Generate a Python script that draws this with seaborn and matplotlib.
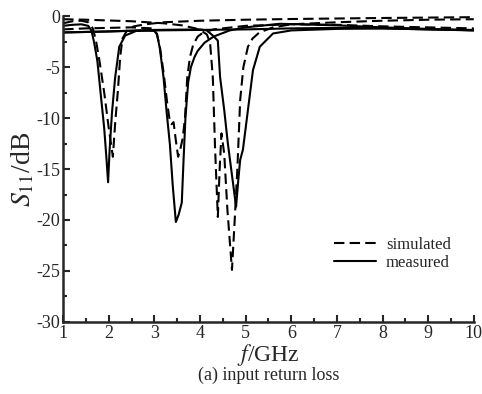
import matplotlib
matplotlib.use('Agg')
import matplotlib.pyplot as plt
import seaborn as sns
from matplotlib.ticker import MultipleLocator
from matplotlib.lines import Line2D

# simulated curves (dashed)
sim_a_f = [1.0, 1.2, 1.4, 1.55, 1.65, 1.72, 1.8, 1.9, 2.0, 2.09, 2.14, 2.2, 2.25, 2.3, 2.4, 2.55, 2.8, 3.2, 4.0, 5.0, 6.0, 8.0, 10.0]
sim_a_db = [-0.7, -0.5, -0.45, -0.6, -1.2, -2.4, -4.5, -7.5, -11.0, -13.8, -10.5, -7.3, -4.0, -2.2, -1.4, -1.0, -0.8, -0.6, -0.45, -0.35, -0.28, -0.18, -0.1]

sim_b_f = [1.0, 1.5, 2.5, 2.95, 3.05, 3.12, 3.2, 3.28, 3.34, 3.38, 3.42, 3.47, 3.52, 3.57, 3.62, 3.67, 3.72, 3.78, 3.85, 3.95, 4.07, 4.3, 5.0, 6.0, 7.0, 8.0, 9.0, 10.0]
sim_b_db = [-1.3, -1.2, -1.1, -1.2, -1.7, -3.0, -5.5, -8.5, -10.4, -10.6, -10.4, -12.2, -13.8, -13.0, -12.0, -10.0, -6.0, -4.0, -2.8, -2.0, -1.6, -1.3, -0.95, -0.8, -0.85, -1.0, -1.1, -1.2]

sim_c_f = [1.0, 1.5, 2.5, 3.2, 3.6, 3.9, 4.05, 4.15, 4.22, 4.28, 4.33, 4.39, 4.43, 4.47, 4.53, 4.6, 4.7, 4.76, 4.82, 4.88, 4.95, 5.05, 5.15, 5.3, 5.6, 6.0, 7.0, 8.0, 9.0, 10.0]
sim_c_db = [-0.3, -0.35, -0.5, -0.7, -0.9, -1.2, -1.5, -1.8, -2.6, -6.0, -13.0, -19.7, -15.0, -11.5, -13.5, -19.0, -24.9, -20.0, -14.8, -8.2, -5.0, -3.0, -2.2, -1.6, -1.1, -0.8, -0.6, -0.45, -0.35, -0.3]

# measured curves (solid)
mea_a_f = [1.0, 1.2, 1.4, 1.55, 1.62, 1.68, 1.75, 1.82, 1.9, 1.95, 1.985, 2.02, 2.07, 2.14, 2.23, 2.36, 2.6, 3.0, 4.0, 5.0, 6.0, 7.0, 8.0, 9.0, 10.0]
mea_a_db = [-0.95, -0.85, -0.8, -0.95, -1.4, -2.6, -4.4, -7.5, -11.0, -14.0, -16.3, -13.0, -9.5, -6.0, -3.0, -1.9, -1.45, -1.4, -1.35, -1.3, -1.2, -1.15, -1.2, -1.3, -1.4]

mea_b_f = [1.0, 2.0, 2.8, 3.0, 3.06, 3.12, 3.2, 3.27, 3.34, 3.4, 3.47, 3.53, 3.6, 3.64, 3.68, 3.74, 3.8, 3.88, 3.95, 4.1, 4.3, 4.65, 5.0, 5.75, 7.0, 8.0, 9.0, 10.0]
mea_b_db = [-1.6, -1.5, -1.4, -1.45, -1.8, -3.2, -6.0, -9.5, -12.6, -16.5, -20.2, -19.5, -18.3, -14.0, -10.0, -6.5, -5.0, -4.0, -3.4, -2.6, -2.0, -1.4, -1.1, -0.75, -0.9, -1.1, -1.25, -1.4]

mea_c_f = [1.0, 2.0, 3.0, 4.0, 4.15, 4.28, 4.39, 4.44, 4.53, 4.61, 4.7, 4.79, 4.84, 4.88, 4.94, 5.05, 5.16, 5.31, 5.6, 6.0, 7.0, 8.0, 9.0, 10.0]
mea_c_db = [-1.6, -1.5, -1.35, -1.3, -1.4, -1.9, -2.4, -6.0, -9.2, -12.5, -15.6, -18.7, -16.0, -14.1, -13.1, -9.2, -5.3, -3.0, -1.7, -1.4, -1.25, -1.2, -1.3, -1.35]

x_ticks = [1, 2, 3, 4, 5, 6, 7, 8, 9, 10]
y_ticks = [0, -5, -10, -15, -20, -25, -30]

sns.set_style('ticks')
plt.rcParams['font.family'] = ['Liberation Serif', 'DejaVu Serif']
plt.rcParams['mathtext.fontset'] = 'stix'
plt.rcParams['axes.unicode_minus'] = False

fig = plt.figure(figsize=(4.82, 3.94), dpi=100)
ax = fig.add_axes([0.131, 0.183, 0.852, 0.776])

dash = (5, 2.5)
lw = 1.5
for f, db in [(sim_a_f, sim_a_db), (sim_b_f, sim_b_db), (sim_c_f, sim_c_db)]:
    sns.lineplot(x=f, y=db, ax=ax, color='black', lw=lw, sort=False)
    ax.lines[-1].set_dashes(dash)
for f, db in [(mea_a_f, mea_a_db), (mea_b_f, mea_b_db), (mea_c_f, mea_c_db)]:
    sns.lineplot(x=f, y=db, ax=ax, color='black', lw=lw, sort=False)

ax.set_xlim(1, 10)
ax.set_ylim(-30, 0)
ax.set_xticks(x_ticks)
ax.set_yticks(y_ticks)
ax.xaxis.set_minor_locator(MultipleLocator(0.5))
ax.yaxis.set_minor_locator(MultipleLocator(2.5))
ax.tick_params(which='both', direction='in', width=1.5, labelsize=13, pad=2)
ax.tick_params(which='major', length=5)
ax.tick_params(which='minor', length=3)
ax.spines['top'].set_visible(False)
ax.spines['right'].set_visible(False)
ax.spines['left'].set_linewidth(1.8)
ax.spines['bottom'].set_linewidth(1.8)

ax.set_xlabel(r'$f$/GHz', fontsize=17, labelpad=0)
ax.set_ylabel(r'$S_{11}$/dB', fontsize=20, labelpad=0)
fig.text(0.557, 0.035, '(a) input return loss', ha='center', fontsize=13)

handles = [Line2D([], [], color='black', lw=lw, dashes=dash),
           Line2D([], [], color='black', lw=lw)]
ax.legend(handles, ['simulated', 'measured'], loc='center left', bbox_to_anchor=(0.64, 0.222),
          frameon=False, fontsize=12, handlelength=2.5, handletextpad=0.6,
          labelspacing=0.15, borderpad=0)

fig.savefig('out.png', dpi=100)
